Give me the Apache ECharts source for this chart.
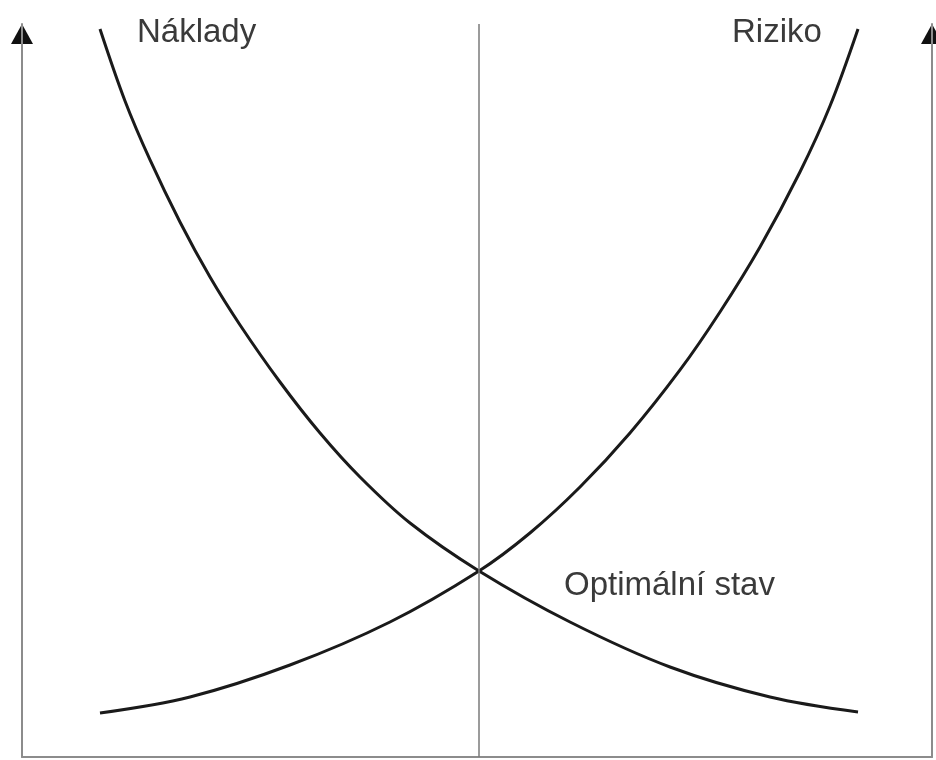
<!DOCTYPE html>
<html>
<head>
<meta charset="utf-8">
<script src="https://cdn.jsdelivr.net/npm/echarts@6/dist/echarts.min.js"></script>
<style>
html,body{margin:0;padding:0;background:#fff;}
#chart{width:936px;height:760px;}
</style>
</head>
<body>
<div id="chart"></div>
<script>
// hodnoty (osa x 0-100, osa y 0-100)
var nakladyX = [8.57, 11.32, 14.07, 17.36, 20.66, 23.96, 28.35, 32.75, 37.14, 42.64, 50.22, 60.22, 71.21, 82.20, 91.87];
var nakladyY = [99.32, 89.50, 81.45, 72.99, 65.48, 58.94, 51.16, 44.20, 38.20, 31.92, 25.38, 18.42, 12.28, 8.19, 6.14];
var rizikoX = [8.57, 18.46, 29.45, 40.44, 50.22, 55.82, 61.32, 66.81, 72.31, 76.70, 81.10, 85.49, 88.79, 91.87];
var rizikoY = [6.00, 8.19, 12.55, 18.42, 25.38, 30.56, 36.83, 44.20, 52.80, 60.71, 69.58, 79.81, 88.81, 99.32];
var optimumX = 50.22;
var labels = ["Náklady", "Riziko", "Optimální stav"];

function pairs(xs, ys){
	var arr = [];
	for(var i = 0; i < xs.length; i++){
		arr.push([xs[i], ys[i]]);
	}
	return arr;
}

var myChart = echarts.init(document.getElementById('chart'));
var axisColor = '#8c8c8c';
var font = '"Liberation Sans", Arial, sans-serif';
var option = {
	animation: false,
	grid: {left: 22, right: 4, top: 24, bottom: 3},
	xAxis: {
		type: 'value', min: 0, max: 100,
		axisLine: {lineStyle: {color: axisColor, width: 2}},
		axisTick: {show: false}, axisLabel: {show: false}, splitLine: {show: false}
	},
	yAxis: [
		{
			type: 'value', min: 0, max: 100, position: 'left',
			axisLine: {show: true, lineStyle: {color: axisColor, width: 2}},
			axisTick: {show: false}, axisLabel: {show: false}, splitLine: {show: false}
		},
		{
			type: 'value', min: 0, max: 100, position: 'right',
			axisLine: {show: true, lineStyle: {color: axisColor, width: 2}},
			axisTick: {show: false}, axisLabel: {show: false}, splitLine: {show: false}
		}
	],
	series: [
		{
			name: labels[0], type: 'line', smooth: 0.35, clip: false,
			symbol: 'none',
			lineStyle: {color: '#1a1a1a', width: 3},
			data: pairs(nakladyX, nakladyY),
			markLine: {
				silent: true, symbol: 'none', label: {show: false},
				lineStyle: {color: '#7a7a7a', width: 1.5, type: 'solid'},
				data: [{xAxis: optimumX}]
			}
		},
		{
			name: labels[1], type: 'line', smooth: 0.35, clip: false,
			symbol: 'none',
			lineStyle: {color: '#1a1a1a', width: 3},
			data: pairs(rizikoX, rizikoY)
		}
	],
	graphic: [
		//šipky na osách
		{type: 'polygon', shape: {points: [[22, 24], [11, 44], [33, 44]]}, style: {fill: '#111'}},
		{type: 'polygon', shape: {points: [[932, 24], [921, 44], [943, 44]]}, style: {fill: '#111'}},
		{type: 'text', x: 137, y: 33, style: {text: labels[0], fill: '#3a3a3a', font: '33px ' + font, verticalAlign: 'middle'}},
		{type: 'text', x: 732, y: 33, style: {text: labels[1], fill: '#3a3a3a', font: '33px ' + font, verticalAlign: 'middle'}},
		{type: 'text', x: 564, y: 586, style: {text: labels[2], fill: '#3a3a3a', font: '33px ' + font, verticalAlign: 'middle'}}
	]
};
myChart.setOption(option);
</script>
</body>
</html>
